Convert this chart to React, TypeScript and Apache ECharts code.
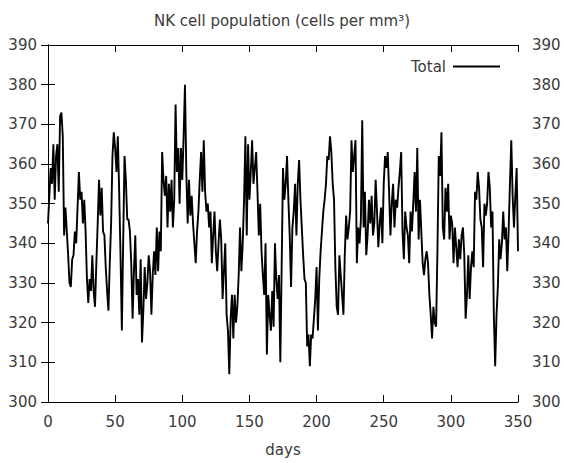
import React, { useEffect, useRef } from "react";
import * as echarts from "echarts";

const titleText = "NK cell population (cells per mm³)";
const seriesName = "Total";
const xLabel = "days";
const xTicks = { min: 0, max: 350, interval: 50 };
const yTicks = { min: 300, max: 390, interval: 10 };

// NK cell count per day (cells per mm^3), day 0..350
const totalValues: number[] = [
  345, 352, 359, 355, 365, 351, 362, 365, 353, 372,
  373, 367, 342, 349, 343, 337, 330, 329, 336, 337,
  343, 340, 349, 358, 351, 353, 345, 351, 343, 331,
  325, 331, 328, 337, 328, 324, 335, 345, 356, 347,
  354, 343, 342, 334, 328, 323, 335, 345, 362, 368,
  364, 358, 367, 353, 337, 318, 341, 362, 356, 346,
  346, 343, 335, 321, 333, 342, 327, 331, 322, 336,
  315, 323, 334, 326, 330, 337, 333, 322, 332, 338,
  332, 344, 333, 343, 338, 363, 356, 352, 357, 344,
  355, 348, 356, 344, 351, 375, 358, 364, 350, 364,
  356, 367, 380, 358, 345, 356, 347, 352, 345, 340,
  335, 343, 348, 356, 363, 353, 366, 353, 348, 350,
  344, 348, 335, 342, 348, 338, 333, 340, 346, 341,
  326, 333, 340, 322, 318, 307, 321, 327, 316, 327,
  320, 324, 332, 344, 333, 340, 351, 367, 342, 365,
  351, 358, 366, 355, 359, 363, 353, 342, 350, 338,
  332, 327, 340, 312, 327, 322, 318, 328, 319, 340,
  331, 326, 332, 310, 334, 359, 351, 355, 362, 351,
  342, 329, 344, 348, 355, 342, 355, 361, 351, 344,
  337, 331, 330, 314, 317, 309, 317, 316, 321, 326,
  334, 318, 331, 338, 343, 348, 351, 355, 362, 361,
  367, 363, 355, 351, 334, 324, 322, 337, 332, 327,
  322, 337, 347, 341, 344, 348, 366, 358, 362, 366,
  335, 344, 340, 346, 371, 344, 353, 337, 342, 351,
  345, 352, 342, 345, 356, 348, 339, 345, 349, 340,
  355, 362, 359, 363, 353, 342, 350, 355, 344, 351,
  349, 354, 358, 363, 343, 336, 348, 344, 342, 335,
  348, 343, 350, 358, 348, 364, 341, 351, 343, 335,
  332, 336, 338, 335, 327, 322, 316, 324, 320, 319,
  338, 362, 357, 368, 344, 341, 354, 348, 355, 341,
  347, 345, 335, 344, 339, 334, 341, 336, 342, 344,
  337, 321, 327, 337, 326, 334, 338, 334, 353, 351,
  358, 354, 346, 344, 334, 350, 347, 350, 358, 354,
  344, 348, 322, 309, 322, 329, 341, 336, 340, 348,
  341, 344, 333, 343, 355, 366, 352, 344, 352, 359,
  338,
];
const days: number[] = totalValues.map((_, i) => i);

const FONT = "DejaVu Sans";
const TEXT = "#3a3a3a";

export default function App() {
  const ref = useRef<HTMLDivElement>(null);
  useEffect(() => {
    if (!ref.current) return;
    const chart = echarts.init(ref.current, undefined, { renderer: "svg" });
    const axisCommon = {
      axisLine: { show: true, lineStyle: { color: "#000", width: 1 } },
      axisTick: { show: true, inside: true, length: 7, lineStyle: { color: "#000", width: 1 } },
      splitLine: { show: false },
    };
    chart.setOption({
      animation: false,
      backgroundColor: "#fff",
      textStyle: { fontFamily: FONT },
      title: {
        text: titleText,
        left: "center",
        top: 8,
        textStyle: { fontFamily: FONT, fontSize: 15, fontWeight: "normal", color: TEXT },
      },
      legend: {
        data: [seriesName],
        right: 59,
        top: 54,
        align: "right",
        icon: "rect",
        itemWidth: 47,
        itemHeight: 2,
        itemGap: 10,
        textStyle: { fontFamily: FONT, fontSize: 15, color: TEXT, padding: [0, 2, 0, 0] },
      },
      grid: { left: 48, right: 46, top: 45, bottom: 61, containLabel: false },
      xAxis: [
        {
          type: "value",
          position: "bottom",
          ...xTicks,
          name: xLabel,
          nameLocation: "middle",
          nameGap: 40,
          nameTextStyle: { fontFamily: FONT, fontSize: 15, color: TEXT },
          axisLabel: { fontFamily: FONT, fontSize: 15, color: TEXT, margin: 12 },
          ...axisCommon,
        },
        {
          type: "value",
          position: "top",
          ...xTicks,
          axisLabel: { show: false },
          ...axisCommon,
        },
      ],
      yAxis: [
        {
          type: "value",
          position: "left",
          ...yTicks,
          axisLabel: { fontFamily: FONT, fontSize: 15, color: TEXT, margin: 11 },
          ...axisCommon,
        },
        {
          type: "value",
          position: "right",
          ...yTicks,
          axisLabel: { fontFamily: FONT, fontSize: 15, color: TEXT, margin: 14 },
          ...axisCommon,
        },
      ],
      series: [
        {
          name: seriesName,
          type: "line",
          xAxisIndex: 0,
          yAxisIndex: 0,
          data: days.map((d, i) => [d, totalValues[i]]),
          showSymbol: false,
          symbol: "none",
          lineStyle: { color: "#000", width: 1.9 },
          itemStyle: { color: "#000" },
        },
      ],
    });
    return () => chart.dispose();
  }, []);
  return (
    <div
      ref={ref}
      style={{ position: "fixed", left: 0, top: 0, width: 564, height: 463 }}
    />
  );
}
